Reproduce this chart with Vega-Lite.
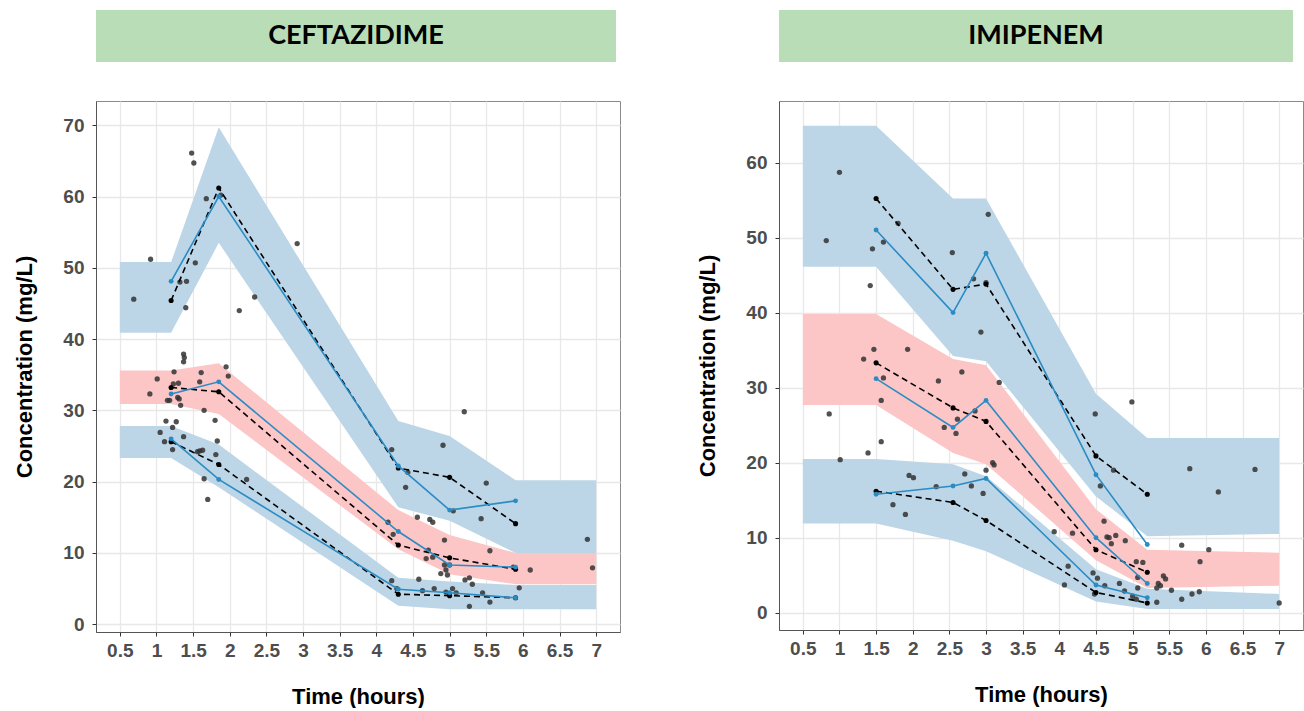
{
  "$schema": "https://vega.github.io/schema/vega-lite/v6.json",
  "background": "white",
  "padding": {"left": 13, "top": 10, "right": 0, "bottom": 0},
  "spacing": 75,
  "config": {
    "view": {"stroke": "#8a8a8a", "strokeWidth": 1},
    "axis": {
      "labelFont": "Liberation Sans", "labelFontWeight": "bold", "labelFontSize": 19, "labelColor": "#4d4d4d",
      "titleFont": "Liberation Sans", "titleFontWeight": "bold", "titleFontSize": 22, "titleColor": "#000000",
      "gridColor": "#e8e8e8", "gridWidth": 1.3, "tickColor": "#333333", "domainColor": "#555555", "tickSize": 4
    }
  },
  "datasets": {
    "cef_band": [
      {"t": 0.5, "lo": 40.9, "hi": 50.8, "band": "upper", "kind": "outer"},
      {"t": 1.2, "lo": 40.9, "hi": 50.8, "band": "upper", "kind": "outer"},
      {"t": 1.85, "lo": 53.5, "hi": 69.7, "band": "upper", "kind": "outer"},
      {"t": 4.3, "lo": 16.4, "hi": 28.5, "band": "upper", "kind": "outer"},
      {"t": 5.0, "lo": 14.5, "hi": 26.4, "band": "upper", "kind": "outer"},
      {"t": 5.9, "lo": 10.0, "hi": 20.2, "band": "upper", "kind": "outer"},
      {"t": 7.0, "lo": 10.0, "hi": 20.2, "band": "upper", "kind": "outer"},
      {"t": 0.5, "lo": 30.9, "hi": 35.6, "band": "median", "kind": "median"},
      {"t": 1.2, "lo": 30.9, "hi": 35.6, "band": "median", "kind": "median"},
      {"t": 1.85, "lo": 29.5, "hi": 36.6, "band": "median", "kind": "median"},
      {"t": 4.3, "lo": 10.5, "hi": 16.0, "band": "median", "kind": "median"},
      {"t": 5.0, "lo": 7.0, "hi": 12.5, "band": "median", "kind": "median"},
      {"t": 5.9, "lo": 5.6, "hi": 10.0, "band": "median", "kind": "median"},
      {"t": 7.0, "lo": 5.6, "hi": 10.0, "band": "median", "kind": "median"},
      {"t": 0.5, "lo": 23.3, "hi": 27.8, "band": "lower", "kind": "outer"},
      {"t": 1.2, "lo": 23.3, "hi": 27.8, "band": "lower", "kind": "outer"},
      {"t": 1.85, "lo": 19.2, "hi": 25.2, "band": "lower", "kind": "outer"},
      {"t": 4.3, "lo": 2.6, "hi": 6.5, "band": "lower", "kind": "outer"},
      {"t": 5.0, "lo": 2.1, "hi": 6.0, "band": "lower", "kind": "outer"},
      {"t": 5.9, "lo": 2.1, "hi": 5.5, "band": "lower", "kind": "outer"},
      {"t": 7.0, "lo": 2.1, "hi": 5.5, "band": "lower", "kind": "outer"}
    ],
    "cef_line": [
      {"t": 1.2, "c": 45.4, "pct": "p95", "src": "obs"},
      {"t": 1.85, "c": 61.2, "pct": "p95", "src": "obs"},
      {"t": 4.3, "c": 21.9, "pct": "p95", "src": "obs"},
      {"t": 5.0, "c": 20.6, "pct": "p95", "src": "obs"},
      {"t": 5.9, "c": 14.1, "pct": "p95", "src": "obs"},
      {"t": 1.2, "c": 48.1, "pct": "p95", "src": "sim"},
      {"t": 1.85, "c": 60.0, "pct": "p95", "src": "sim"},
      {"t": 4.3, "c": 22.2, "pct": "p95", "src": "sim"},
      {"t": 5.0, "c": 16.0, "pct": "p95", "src": "sim"},
      {"t": 5.9, "c": 17.3, "pct": "p95", "src": "sim"},
      {"t": 1.2, "c": 33.2, "pct": "p50", "src": "obs"},
      {"t": 1.85, "c": 32.6, "pct": "p50", "src": "obs"},
      {"t": 4.3, "c": 11.1, "pct": "p50", "src": "obs"},
      {"t": 5.0, "c": 9.3, "pct": "p50", "src": "obs"},
      {"t": 5.9, "c": 7.7, "pct": "p50", "src": "obs"},
      {"t": 1.2, "c": 32.3, "pct": "p50", "src": "sim"},
      {"t": 1.85, "c": 34.0, "pct": "p50", "src": "sim"},
      {"t": 4.3, "c": 13.0, "pct": "p50", "src": "sim"},
      {"t": 5.0, "c": 8.3, "pct": "p50", "src": "sim"},
      {"t": 5.9, "c": 8.0, "pct": "p50", "src": "sim"},
      {"t": 1.2, "c": 25.6, "pct": "p05", "src": "obs"},
      {"t": 1.85, "c": 22.4, "pct": "p05", "src": "obs"},
      {"t": 4.3, "c": 4.2, "pct": "p05", "src": "obs"},
      {"t": 5.0, "c": 4.0, "pct": "p05", "src": "obs"},
      {"t": 5.9, "c": 3.7, "pct": "p05", "src": "obs"},
      {"t": 1.2, "c": 26.0, "pct": "p05", "src": "sim"},
      {"t": 1.85, "c": 20.3, "pct": "p05", "src": "sim"},
      {"t": 4.3, "c": 4.9, "pct": "p05", "src": "sim"},
      {"t": 5.0, "c": 4.4, "pct": "p05", "src": "sim"},
      {"t": 5.9, "c": 3.7, "pct": "p05", "src": "sim"}
    ],
    "cef_obs": [
      {"t": 0.69, "c": 45.6}, {"t": 0.92, "c": 51.2}, {"t": 1.48, "c": 66.1}, {"t": 1.51, "c": 64.7},
      {"t": 1.68, "c": 59.7}, {"t": 1.88, "c": 60.2}, {"t": 1.53, "c": 50.7}, {"t": 1.32, "c": 48.0},
      {"t": 1.41, "c": 48.1}, {"t": 1.40, "c": 44.4}, {"t": 2.92, "c": 53.4}, {"t": 2.34, "c": 45.9},
      {"t": 2.13, "c": 44.0}, {"t": 1.37, "c": 37.9}, {"t": 1.38, "c": 37.4}, {"t": 1.37, "c": 36.8},
      {"t": 1.95, "c": 36.1}, {"t": 1.98, "c": 34.8}, {"t": 1.01, "c": 34.4}, {"t": 1.24, "c": 35.4},
      {"t": 1.61, "c": 35.3}, {"t": 0.91, "c": 32.3}, {"t": 1.23, "c": 33.7}, {"t": 1.30, "c": 33.8},
      {"t": 1.15, "c": 31.4}, {"t": 1.18, "c": 31.4}, {"t": 1.29, "c": 31.8}, {"t": 1.31, "c": 31.6},
      {"t": 1.33, "c": 30.7}, {"t": 1.59, "c": 34.0}, {"t": 1.65, "c": 30.0}, {"t": 1.13, "c": 28.5},
      {"t": 1.27, "c": 28.4}, {"t": 1.22, "c": 27.6}, {"t": 1.05, "c": 26.9}, {"t": 1.11, "c": 25.6},
      {"t": 1.22, "c": 24.5}, {"t": 1.37, "c": 26.3}, {"t": 1.80, "c": 28.6}, {"t": 1.83, "c": 25.7},
      {"t": 1.81, "c": 23.8}, {"t": 1.56, "c": 24.2}, {"t": 1.59, "c": 24.3}, {"t": 1.63, "c": 24.4},
      {"t": 1.65, "c": 20.4}, {"t": 1.70, "c": 17.5}, {"t": 2.23, "c": 20.3},
      {"t": 5.20, "c": 29.8}, {"t": 4.21, "c": 24.5}, {"t": 4.43, "c": 21.3}, {"t": 4.40, "c": 19.2},
      {"t": 4.91, "c": 25.1}, {"t": 5.05, "c": 15.9}, {"t": 5.50, "c": 19.8}, {"t": 5.43, "c": 14.8},
      {"t": 4.56, "c": 15.0}, {"t": 4.73, "c": 14.7}, {"t": 4.77, "c": 14.3}, {"t": 4.93, "c": 11.8},
      {"t": 5.55, "c": 10.3}, {"t": 4.16, "c": 14.3}, {"t": 4.23, "c": 12.6}, {"t": 4.71, "c": 10.4},
      {"t": 4.68, "c": 9.2}, {"t": 4.77, "c": 9.4}, {"t": 4.93, "c": 8.3}, {"t": 5.00, "c": 8.3},
      {"t": 4.95, "c": 7.6}, {"t": 4.88, "c": 7.1}, {"t": 4.97, "c": 6.9}, {"t": 5.87, "c": 8.0},
      {"t": 6.10, "c": 7.6}, {"t": 6.88, "c": 11.9}, {"t": 6.95, "c": 7.9}, {"t": 4.58, "c": 6.3},
      {"t": 5.21, "c": 6.2}, {"t": 5.27, "c": 6.5}, {"t": 5.31, "c": 5.6}, {"t": 5.95, "c": 5.1},
      {"t": 4.21, "c": 6.1}, {"t": 4.63, "c": 4.7}, {"t": 4.79, "c": 5.0}, {"t": 4.95, "c": 4.5},
      {"t": 5.04, "c": 5.0}, {"t": 5.09, "c": 4.4}, {"t": 4.28, "c": 5.0}, {"t": 5.45, "c": 4.4},
      {"t": 5.55, "c": 3.1}, {"t": 5.27, "c": 2.5}
    ],
    "imi_band": [
      {"t": 0.5, "lo": 46.1, "hi": 64.9, "band": "upper", "kind": "outer"},
      {"t": 1.5, "lo": 46.1, "hi": 64.9, "band": "upper", "kind": "outer"},
      {"t": 2.55, "lo": 34.2, "hi": 55.2, "band": "upper", "kind": "outer"},
      {"t": 3.0, "lo": 33.5, "hi": 55.2, "band": "upper", "kind": "outer"},
      {"t": 4.5, "lo": 15.5, "hi": 29.2, "band": "upper", "kind": "outer"},
      {"t": 5.2, "lo": 10.2, "hi": 23.3, "band": "upper", "kind": "outer"},
      {"t": 7.0, "lo": 10.5, "hi": 23.3, "band": "upper", "kind": "outer"},
      {"t": 0.5, "lo": 27.7, "hi": 39.8, "band": "median", "kind": "median"},
      {"t": 1.5, "lo": 27.7, "hi": 39.8, "band": "median", "kind": "median"},
      {"t": 2.55, "lo": 21.3, "hi": 33.8, "band": "median", "kind": "median"},
      {"t": 3.0, "lo": 19.8, "hi": 33.0, "band": "median", "kind": "median"},
      {"t": 4.5, "lo": 7.0, "hi": 13.8, "band": "median", "kind": "median"},
      {"t": 5.2, "lo": 3.3, "hi": 8.4, "band": "median", "kind": "median"},
      {"t": 7.0, "lo": 3.6, "hi": 8.0, "band": "median", "kind": "median"},
      {"t": 0.5, "lo": 11.9, "hi": 20.5, "band": "lower", "kind": "outer"},
      {"t": 1.5, "lo": 11.9, "hi": 20.5, "band": "lower", "kind": "outer"},
      {"t": 2.55, "lo": 9.6, "hi": 19.8, "band": "lower", "kind": "outer"},
      {"t": 3.0, "lo": 8.2, "hi": 18.2, "band": "lower", "kind": "outer"},
      {"t": 4.5, "lo": 1.5, "hi": 5.8, "band": "lower", "kind": "outer"},
      {"t": 5.2, "lo": 0.5, "hi": 3.2, "band": "lower", "kind": "outer"},
      {"t": 7.0, "lo": 0.5, "hi": 2.5, "band": "lower", "kind": "outer"}
    ],
    "imi_line": [
      {"t": 1.5, "c": 55.2, "pct": "p95", "src": "obs"},
      {"t": 2.55, "c": 43.1, "pct": "p95", "src": "obs"},
      {"t": 3.0, "c": 43.8, "pct": "p95", "src": "obs"},
      {"t": 4.5, "c": 20.9, "pct": "p95", "src": "obs"},
      {"t": 5.2, "c": 15.8, "pct": "p95", "src": "obs"},
      {"t": 1.5, "c": 51.0, "pct": "p95", "src": "sim"},
      {"t": 2.55, "c": 40.0, "pct": "p95", "src": "sim"},
      {"t": 3.0, "c": 47.9, "pct": "p95", "src": "sim"},
      {"t": 4.5, "c": 18.4, "pct": "p95", "src": "sim"},
      {"t": 5.2, "c": 9.1, "pct": "p95", "src": "sim"},
      {"t": 1.5, "c": 33.3, "pct": "p50", "src": "obs"},
      {"t": 2.55, "c": 27.3, "pct": "p50", "src": "obs"},
      {"t": 3.0, "c": 25.5, "pct": "p50", "src": "obs"},
      {"t": 4.5, "c": 8.4, "pct": "p50", "src": "obs"},
      {"t": 5.2, "c": 5.4, "pct": "p50", "src": "obs"},
      {"t": 1.5, "c": 31.2, "pct": "p50", "src": "sim"},
      {"t": 2.55, "c": 24.7, "pct": "p50", "src": "sim"},
      {"t": 3.0, "c": 28.3, "pct": "p50", "src": "sim"},
      {"t": 4.5, "c": 10.0, "pct": "p50", "src": "sim"},
      {"t": 5.2, "c": 3.9, "pct": "p50", "src": "sim"},
      {"t": 1.5, "c": 16.2, "pct": "p05", "src": "obs"},
      {"t": 2.55, "c": 14.7, "pct": "p05", "src": "obs"},
      {"t": 3.0, "c": 12.3, "pct": "p05", "src": "obs"},
      {"t": 4.5, "c": 2.7, "pct": "p05", "src": "obs"},
      {"t": 5.2, "c": 1.3, "pct": "p05", "src": "obs"},
      {"t": 1.5, "c": 15.8, "pct": "p05", "src": "sim"},
      {"t": 2.55, "c": 16.9, "pct": "p05", "src": "sim"},
      {"t": 3.0, "c": 17.9, "pct": "p05", "src": "sim"},
      {"t": 4.5, "c": 3.7, "pct": "p05", "src": "sim"},
      {"t": 5.2, "c": 2.0, "pct": "p05", "src": "sim"}
    ],
    "imi_obs": [
      {"t": 1.00, "c": 58.7}, {"t": 0.82, "c": 49.6}, {"t": 1.45, "c": 48.5}, {"t": 1.60, "c": 49.4},
      {"t": 1.80, "c": 51.9}, {"t": 1.42, "c": 43.6}, {"t": 2.54, "c": 48.0}, {"t": 3.03, "c": 53.1},
      {"t": 2.83, "c": 44.5}, {"t": 3.00, "c": 44.0}, {"t": 2.93, "c": 37.4}, {"t": 3.18, "c": 30.7},
      {"t": 1.47, "c": 35.1}, {"t": 1.33, "c": 33.8}, {"t": 1.93, "c": 35.1}, {"t": 1.60, "c": 31.3},
      {"t": 1.57, "c": 28.3}, {"t": 2.35, "c": 30.9}, {"t": 2.67, "c": 32.1}, {"t": 0.86, "c": 26.5},
      {"t": 2.61, "c": 25.8}, {"t": 2.85, "c": 26.9}, {"t": 2.43, "c": 24.7}, {"t": 2.59, "c": 23.9},
      {"t": 1.57, "c": 22.8}, {"t": 1.39, "c": 21.3}, {"t": 1.01, "c": 20.4}, {"t": 1.95, "c": 18.3},
      {"t": 2.01, "c": 18.0}, {"t": 2.32, "c": 16.8}, {"t": 2.71, "c": 18.5}, {"t": 2.80, "c": 16.9},
      {"t": 3.00, "c": 19.0}, {"t": 3.09, "c": 20.0}, {"t": 3.11, "c": 19.7}, {"t": 2.96, "c": 15.9},
      {"t": 1.73, "c": 14.4}, {"t": 1.90, "c": 13.1},
      {"t": 4.49, "c": 26.5}, {"t": 4.99, "c": 28.1}, {"t": 4.56, "c": 16.9}, {"t": 4.74, "c": 19.0},
      {"t": 5.78, "c": 19.2}, {"t": 6.17, "c": 16.1}, {"t": 6.67, "c": 19.1}, {"t": 3.93, "c": 10.8},
      {"t": 4.18, "c": 10.6}, {"t": 4.61, "c": 12.2}, {"t": 4.65, "c": 10.1}, {"t": 4.68, "c": 10.0},
      {"t": 4.71, "c": 9.2}, {"t": 4.77, "c": 10.3}, {"t": 4.90, "c": 9.6}, {"t": 5.67, "c": 9.0},
      {"t": 6.04, "c": 8.4}, {"t": 5.92, "c": 6.8}, {"t": 5.05, "c": 6.8}, {"t": 5.14, "c": 6.7},
      {"t": 5.42, "c": 4.9}, {"t": 5.45, "c": 4.5}, {"t": 5.35, "c": 3.9}, {"t": 5.38, "c": 3.6},
      {"t": 5.33, "c": 3.3}, {"t": 5.07, "c": 4.7}, {"t": 5.07, "c": 3.3}, {"t": 4.82, "c": 3.9},
      {"t": 4.62, "c": 3.6}, {"t": 4.46, "c": 5.3}, {"t": 4.52, "c": 4.6}, {"t": 4.12, "c": 6.2},
      {"t": 4.07, "c": 3.7}, {"t": 4.48, "c": 2.5}, {"t": 4.89, "c": 2.9}, {"t": 5.00, "c": 2.2},
      {"t": 5.05, "c": 1.8}, {"t": 5.33, "c": 1.4}, {"t": 5.53, "c": 3.0}, {"t": 5.67, "c": 1.8},
      {"t": 5.81, "c": 2.5}, {"t": 5.91, "c": 2.8}, {"t": 7.00, "c": 1.3}
    ],
    "cef_head": [{"label": "CEFTAZIDIME"}],
    "imi_head": [{"label": "IMIPENEM"}]
  },
  "hconcat": [
    {
      "spacing": 38,
      "vconcat": [
        {
          "width": 520, "height": 52,
          "view": {"fill": "#b9ddb6", "stroke": null},
          "data": {"name": "cef_head"},
          "mark": {"type": "text", "font": "Lato", "fontWeight": "bold", "fontSize": 27, "color": "#000000", "align": "center", "baseline": "middle"},
          "encoding": {"text": {"field": "label"}}
        },
        {
          "width": 524, "height": 531,
          "layer": [
            {
              "data": {"name": "cef_band"},
              "mark": {"type": "area", "opacity": 1},
              "encoding": {
                "x": {"field": "t", "type": "quantitative", "scale": {"domain": [0.175, 7.325], "nice": false, "zero": false},
                      "axis": {"values": [0.5, 1, 1.5, 2, 2.5, 3, 3.5, 4, 4.5, 5, 5.5, 6, 6.5, 7], "format": "~g", "title": "Time (hours)", "labelPadding": 5, "titlePadding": 26}},
                "y": {"field": "lo", "type": "quantitative", "scale": {"domain": [-1.1, 73.4], "nice": false, "zero": false},
                      "axis": {"values": [0, 10, 20, 30, 40, 50, 60, 70], "title": "Concentration (mg/L)", "labelPadding": 8, "titlePadding": 26}},
                "y2": {"field": "hi"},
                "color": {"field": "kind", "type": "nominal", "scale": {"domain": ["outer", "median"], "range": ["#bcd6e7", "#fcc6c7"]}, "legend": null},
                "detail": {"field": "band"}
              }
            },
            {
              "data": {"name": "cef_obs"},
              "mark": {"type": "circle", "size": 28, "color": "#333333", "opacity": 0.85},
              "encoding": {"x": {"field": "t", "type": "quantitative"}, "y": {"field": "c", "type": "quantitative"}}
            },
            {
              "data": {"name": "cef_line"},
              "transform": [{"filter": "datum.src === 'obs'"}],
              "mark": {"type": "line", "color": "#000000", "strokeWidth": 1.6, "strokeDash": [6, 4], "point": {"filled": true, "size": 26, "color": "#000000"}},
              "encoding": {"x": {"field": "t", "type": "quantitative"}, "y": {"field": "c", "type": "quantitative"}, "detail": {"field": "pct"}}
            },
            {
              "data": {"name": "cef_line"},
              "transform": [{"filter": "datum.src === 'sim'"}],
              "mark": {"type": "line", "color": "#2b8cc4", "strokeWidth": 1.6, "point": {"filled": true, "size": 24, "color": "#2b8cc4"}},
              "encoding": {"x": {"field": "t", "type": "quantitative"}, "y": {"field": "c", "type": "quantitative"}, "detail": {"field": "pct"}}
            }
          ]
        }
      ]
    },
    {
      "spacing": 38,
      "vconcat": [
        {
          "width": 514, "height": 52,
          "view": {"fill": "#b9ddb6", "stroke": null},
          "data": {"name": "imi_head"},
          "mark": {"type": "text", "font": "Lato", "fontWeight": "bold", "fontSize": 27, "color": "#000000", "align": "center", "baseline": "middle"},
          "encoding": {"text": {"field": "label"}}
        },
        {
          "width": 524, "height": 529,
          "layer": [
            {
              "data": {"name": "imi_band"},
              "mark": {"type": "area", "opacity": 1},
              "encoding": {
                "x": {"field": "t", "type": "quantitative", "scale": {"domain": [0.175, 7.325], "nice": false, "zero": false},
                      "axis": {"values": [0.5, 1, 1.5, 2, 2.5, 3, 3.5, 4, 4.5, 5, 5.5, 6, 6.5, 7], "format": "~g", "title": "Time (hours)", "labelPadding": 5, "titlePadding": 26}},
                "y": {"field": "lo", "type": "quantitative", "scale": {"domain": [-2.3, 68.2], "nice": false, "zero": false},
                      "axis": {"values": [0, 10, 20, 30, 40, 50, 60], "title": "Concentration (mg/L)", "labelPadding": 8, "titlePadding": 26}},
                "y2": {"field": "hi"},
                "color": {"field": "kind", "type": "nominal", "scale": {"domain": ["outer", "median"], "range": ["#bcd6e7", "#fcc6c7"]}, "legend": null},
                "detail": {"field": "band"}
              }
            },
            {
              "data": {"name": "imi_obs"},
              "mark": {"type": "circle", "size": 28, "color": "#333333", "opacity": 0.85},
              "encoding": {"x": {"field": "t", "type": "quantitative"}, "y": {"field": "c", "type": "quantitative"}}
            },
            {
              "data": {"name": "imi_line"},
              "transform": [{"filter": "datum.src === 'obs'"}],
              "mark": {"type": "line", "color": "#000000", "strokeWidth": 1.6, "strokeDash": [6, 4], "point": {"filled": true, "size": 26, "color": "#000000"}},
              "encoding": {"x": {"field": "t", "type": "quantitative"}, "y": {"field": "c", "type": "quantitative"}, "detail": {"field": "pct"}}
            },
            {
              "data": {"name": "imi_line"},
              "transform": [{"filter": "datum.src === 'sim'"}],
              "mark": {"type": "line", "color": "#2b8cc4", "strokeWidth": 1.6, "point": {"filled": true, "size": 24, "color": "#2b8cc4"}},
              "encoding": {"x": {"field": "t", "type": "quantitative"}, "y": {"field": "c", "type": "quantitative"}, "detail": {"field": "pct"}}
            }
          ]
        }
      ]
    }
  ],
  "resolve": {"scale": {"x": "independent", "y": "independent", "color": "independent"}}
}
